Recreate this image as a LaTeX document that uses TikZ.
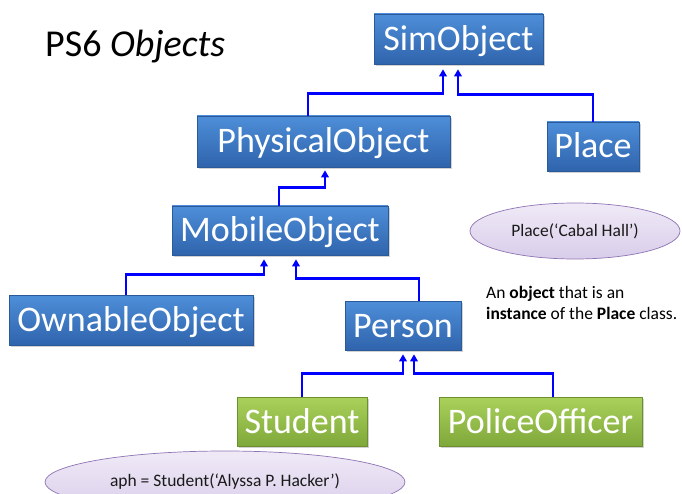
\documentclass[tikz,border=0pt]{standalone}
\usepackage{fontspec}
\setmainfont{Carlito}
\usetikzlibrary{calc,shadows,shapes.geometric,arrows.meta}

\definecolor{clsTop}{HTML}{4E8ED9}
\definecolor{clsBot}{HTML}{2F64AC}
\definecolor{clsEdge}{HTML}{2A5A9A}
\definecolor{subTop}{HTML}{A9D15A}
\definecolor{subBot}{HTML}{7FA83B}
\definecolor{subEdge}{HTML}{6C8F30}
\definecolor{instTop}{HTML}{F0EAF7}
\definecolor{instBot}{HTML}{D9CDEA}
\definecolor{instEdge}{HTML}{8E74B4}
\definecolor{linkBlue}{HTML}{0000FF}

\tikzset{
  cls/.style={rectangle, inner sep=0pt, top color=clsTop, bottom color=clsBot,
    draw=clsEdge, line width=0.6pt, text=white,
    font=\fontsize{36}{36}\selectfont, text height=23pt, text depth=0pt,
    drop shadow={opacity=0.35, shadow xshift=1.5pt, shadow yshift=-2pt}},
  subcls/.style={cls, top color=subTop, bottom color=subBot, draw=subEdge},
  inst/.style={ellipse, inner sep=0pt, top color=instTop, bottom color=instBot,
    draw=instEdge, line width=0.7pt, text=black!90,
    font=\fontsize{17.5}{17.5}\selectfont},
  inh/.style={draw=linkBlue, line width=2.6pt, line join=miter,
    -{Triangle[length=7pt,width=7.5pt]}},
}

\begin{document}
\begin{tikzpicture}[x=1pt,y=-1pt]
\useasboundingbox (0,0) rectangle (682,494);
\clip (0,0) rectangle (682,494);
\fill[white] (0,0) rectangle (682,494);

% title
\node[anchor=base west, inner sep=0pt, font=\fontsize{38}{38}\selectfont] (title)
  at (45,57) {PS6 \textit{Objects}};

% class boxes
\node[cls, minimum width=169pt, minimum height=50pt] (sim)   at (458.5,39)  {SimObject};
\node[cls, minimum width=253pt, minimum height=51pt] (phys)  at (323.5,141.5) {PhysicalObject};
\node[cls, minimum width=92pt,  minimum height=49pt] (place) at (593,146.5)  {Place};
\node[cls, minimum width=216pt, minimum height=49pt] (mob)   at (280,230.5)  {MobileObject};
\node[cls, minimum width=244pt, minimum height=50pt] (own)   at (131,320)    {OwnableObject};
\node[cls, minimum width=116pt, minimum height=49pt] (pers)  at (403,325.5)  {Person};
\node[subcls, minimum width=130pt, minimum height=49pt] (stud) at (302,421.5) {Student};
\node[subcls, minimum width=203pt, minimum height=49pt] (cop)  at (540.5,421.5) {PoliceOfficer};

% instances
\node[inst, minimum width=210pt, minimum height=56pt] (hall) at (575,231)
  {Place(‘Cabal Hall’)};
\node[inst, minimum width=360pt, minimum height=62pt] (aph) at (225,482)
  {aph = Student(‘Alyssa P. Hacker’)};

% explanation
\node[anchor=west, align=left, inner sep=0pt,
  font=\fontsize{17.5}{20.5}\selectfont] (note) at (486,303)
  {An \textbf{object} that is an\\\textbf{instance} of the \textbf{Place} class.};

% inheritance links
\draw[inh] ($(phys.north)+(-15.5,0)$) |- ($(sim.south)+(-15.5,29)$) -- ($(sim.south)+(-15.5,5)$);
\draw[inh] (place.north) |- ($(sim.south)+(-0.5,30)$) -- ($(sim.south)+(-0.5,5)$);
\draw[inh] ($(mob.north)+(-1,0)$) |- ($(phys.south)+(1.5,20)$) -- ($(phys.south)+(1.5,3)$);
\draw[inh] ($(own.north)+(-5,0)$) |- ($(mob.south)+(-16,19)$) -- ($(mob.south)+(-16,4)$);
\draw[inh] ($(pers.north)+(16,0)$) |- ($(mob.south)+(16,23)$) -- ($(mob.south)+(16,4)$);
\draw[inh] (stud.north) |- ($(pers.south)+(0,23)$) -- ($(pers.south)+(0,4)$);
\draw[inh] ($(cop.north)+(12.5,0)$) |- ($(pers.south)+(11,23)$) -- ($(pers.south)+(11,4)$);
\end{tikzpicture}
\end{document}
